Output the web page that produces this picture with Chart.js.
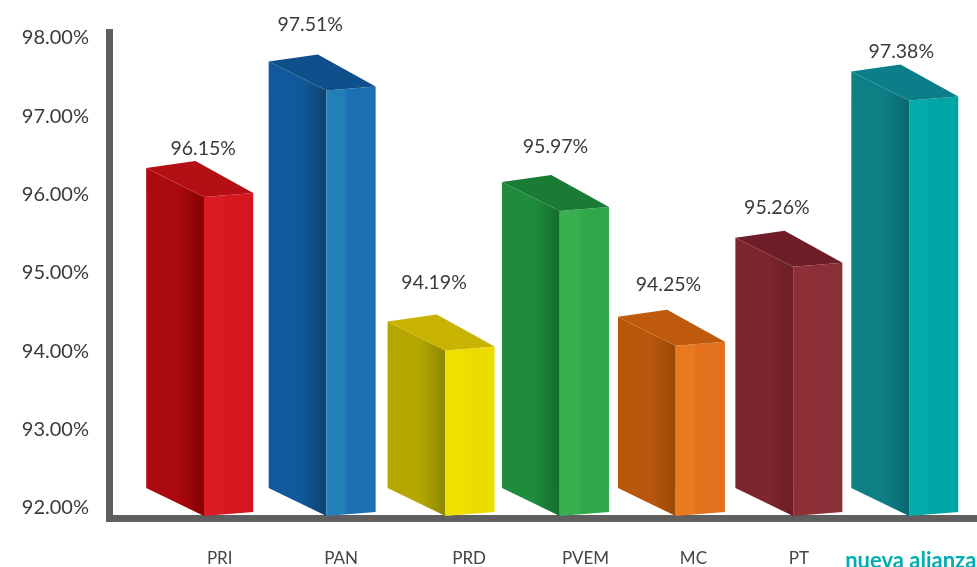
<!DOCTYPE html>
<html><head><meta charset="utf-8">
<style>html,body{margin:0;padding:0;background:#fff}canvas{display:block}</style>
<script src="https://cdn.jsdelivr.net/npm/chart.js@4"></script>
</head><body>
<canvas id="c" width="977" height="567"></canvas>
<script>
const categories = ['PRI','PAN','PRD','PVEM','MC','PT','nueva alianza'];
const turnout = [96.15,97.51,94.19,95.97,94.25,95.26,97.38];
const yTickValues = [92,93,94,95,96,97,98];

const frontColors = ['#d5161f','#1b6fb3','#eddc00','#2fa84a','#e2701c','#8b2f38','#00a5a6'];
const frontLight  = ['#dc1c24','#2180b8','#f0e000','#38b050','#e87a22','#8f3038','#05aaaa'];
const sideLight   = ['#ab0a10','#11599c','#b5a600','#1f8c3c','#b8570c','#7e2630','#0f7f86'];
const sideDark    = ['#8a0000','#0e4473','#908a00','#14702e','#9e4a05','#6c1f24','#086a70'];
const topColors   = ['#b40f15','#0f4f8c','#c8b400','#1a7c34','#bf5a0c','#6f1e28','#0a7f8a'];
const barNudgeX   = [0,5,6.5,3.5,2,2,0.5];
const labelNudgeX = [3.5,-12,-7,0,-3,-12,-3.5];
const labelGapY   = [12,30,32,28,25,23,13];
const tickNudgeX  = [20,24,34.5,33.5,24,12,6.5];

const noMargins = s => {s.paddingLeft=s.paddingRight=s.paddingTop=s.paddingBottom=0;};

const prism = {
  id:'prism',
  beforeDatasetsDraw(chart){
    const c = chart.ctx;
    c.save();
    c.fillStyle = '#5f5f5f';
    c.fillRect(106,29,7,493);
    c.fillRect(106,515,871,7);
    c.restore();
  },
  beforeDatasetDraw(chart,args){
    const c = chart.ctx;
    args.meta.data.forEach((el,i)=>{
      const cx = el.x+barNudgeX[i];
      const L = cx-el.width/2, R = cx+el.width/2;
      const C = L+el.width*0.54, A = L+el.width*0.46;
      const yR = el.y+10, b = el.base;
      const poly = (pts,fill)=>{
        c.beginPath();
        pts.forEach((p,k)=>k?c.lineTo(p[0],p[1]):c.moveTo(p[0],p[1]));
        c.closePath(); c.fillStyle = fill; c.fill();
      };
      const gs = c.createLinearGradient(L,0,C,0);
      gs.addColorStop(0,sideLight[i]); gs.addColorStop(.55,sideLight[i]); gs.addColorStop(.95,sideDark[i]); gs.addColorStop(1,sideDark[i]);
      const gf = c.createLinearGradient(C,0,R,0);
      gf.addColorStop(0,frontLight[i]); gf.addColorStop(.35,frontLight[i]); gf.addColorStop(.45,frontColors[i]); gf.addColorStop(1,frontColors[i]);
      poly([[L,yR-25],[C,yR+4],[C,b+8],[L,b-20]],gs);
      poly([[C,yR+4],[R,yR],[R,b+4],[C,b+8]],gf);
      poly([[L,yR-25],[A,yR-32],[R,yR],[C,yR+4]],topColors[i]);
    });
    return false;
  },
  afterDatasetsDraw(chart){
    const c = chart.ctx, meta = chart.getDatasetMeta(0);
    c.save();
    c.font = '19.5px Lato'; c.fillStyle = '#3a3a3a';
    c.textAlign = 'center'; c.textBaseline = 'middle';
    meta.data.forEach((el,i)=>{
      const apex = el.y+10-32;
      c.fillText(turnout[i].toFixed(2)+'%', el.x+barNudgeX[i]+labelNudgeX[i], apex-labelGapY[i]);
    });
    c.restore();
  }
};

new Chart(document.getElementById('c'),{
  type:'bar',
  data:{labels:categories,datasets:[{data:turnout,base:92,backgroundColor:frontColors,barThickness:107}]},
  plugins:[prism],
  options:{
    responsive:false,animation:false,devicePixelRatio:1,
    layout:{padding:{top:38,right:14,left:0,bottom:0}},
    plugins:{legend:{display:false},tooltip:{enabled:false}},
    scales:{
      x:{
        grid:{display:false,drawTicks:false},border:{display:false},
        afterFit(s){s.height=59;noMargins(s);},
        afterBuildTicks(s){
          if(!s._nudged){
            const orig = s.getPixelForTick;
            s.getPixelForTick = function(i){return orig.call(this,i)+tickNudgeX[i];};
            s._nudged = true;
          }
        },
        ticks:{
          autoSkip:false,maxRotation:0,padding:40,
          color:ctx=>ctx.index===6?'#00adb0':'#444444',
          font:ctx=>ctx.index===6?{family:'Lato',size:22,weight:'bold'}:{family:'Lato',size:17}
        }
      },
      y:{
        min:92,max:98,
        grid:{display:false,drawTicks:false},border:{display:false},
        afterFit(s){s.width=141;noMargins(s);},
        afterBuildTicks(s){s.ticks = yTickValues.map(v=>({value:v}));},
        ticks:{padding:52,color:'#3a3a3a',font:{family:'Lato',size:20},callback:v=>v.toFixed(2)+'%'}
      }
    }
  }
});
</script>
</body></html>
